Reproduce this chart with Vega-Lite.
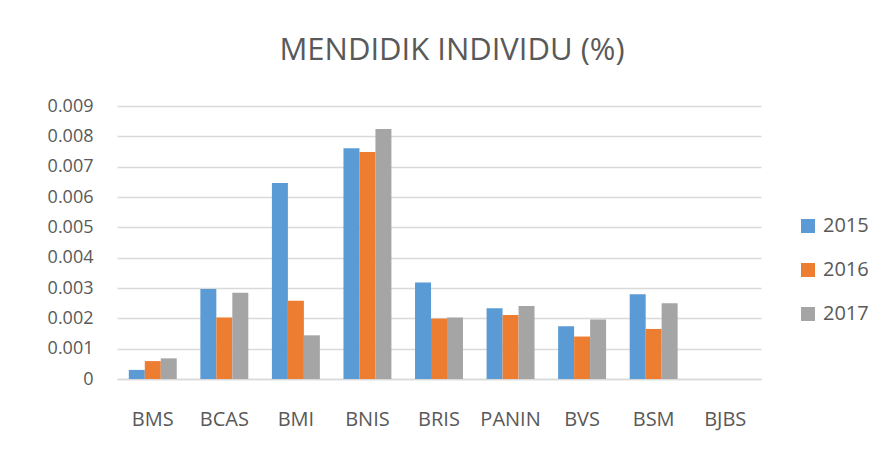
{
  "$schema": "https://vega.github.io/schema/vega-lite/v6.json",
  "width": 644,
  "height": 273,
  "autosize": {"type": "none"},
  "padding": {"left": 117, "top": 106, "right": 127, "bottom": 78},
  "background": "white",
  "title": {
    "text": "MENDIDIK INDIVIDU (%)",
    "font": "Open Sans",
    "fontSize": 31,
    "fontWeight": "normal",
    "color": "#595959",
    "anchor": "middle",
    "dx": 13,
    "offset": 30
  },
  "data": {
    "values": [
      {"bank": "BMS", "year": "2015", "value": 0.0003},
      {"bank": "BMS", "year": "2016", "value": 0.00059},
      {"bank": "BMS", "year": "2017", "value": 0.00068},
      {"bank": "BCAS", "year": "2015", "value": 0.00297},
      {"bank": "BCAS", "year": "2016", "value": 0.00203},
      {"bank": "BCAS", "year": "2017", "value": 0.00284},
      {"bank": "BMI", "year": "2015", "value": 0.00646},
      {"bank": "BMI", "year": "2016", "value": 0.00258},
      {"bank": "BMI", "year": "2017", "value": 0.00144},
      {"bank": "BNIS", "year": "2015", "value": 0.00761},
      {"bank": "BNIS", "year": "2016", "value": 0.00748},
      {"bank": "BNIS", "year": "2017", "value": 0.00824},
      {"bank": "BRIS", "year": "2015", "value": 0.00318},
      {"bank": "BRIS", "year": "2016", "value": 0.00199},
      {"bank": "BRIS", "year": "2017", "value": 0.00203},
      {"bank": "PANIN", "year": "2015", "value": 0.00233},
      {"bank": "PANIN", "year": "2016", "value": 0.00211},
      {"bank": "PANIN", "year": "2017", "value": 0.00241},
      {"bank": "BVS", "year": "2015", "value": 0.00174},
      {"bank": "BVS", "year": "2016", "value": 0.0014},
      {"bank": "BVS", "year": "2017", "value": 0.00196},
      {"bank": "BSM", "year": "2015", "value": 0.00279},
      {"bank": "BSM", "year": "2016", "value": 0.00165},
      {"bank": "BSM", "year": "2017", "value": 0.0025},
      {"bank": "BJBS", "year": "2015", "value": 0},
      {"bank": "BJBS", "year": "2016", "value": 0},
      {"bank": "BJBS", "year": "2017", "value": 0}
    ]
  },
  "mark": {"type": "bar"},
  "encoding": {
    "x": {
      "field": "bank",
      "type": "nominal",
      "sort": null,
      "scale": {"paddingInner": 0.33, "paddingOuter": 0.165},
      "axis": {
        "title": null,
        "labelAngle": 0,
        "labelFont": "Open Sans",
        "labelFontSize": 20,
        "labelColor": "#595959",
        "labelPadding": 30,
        "ticks": false,
        "domainColor": "#D9D9D9",
        "domainWidth": 1.5
      }
    },
    "xOffset": {"field": "year", "type": "nominal", "scale": {"paddingInner": 0, "paddingOuter": 0}},
    "y": {
      "field": "value",
      "type": "quantitative",
      "scale": {"domain": [0, 0.009], "nice": false},
      "axis": {
        "title": null,
        "values": [0, 0.001, 0.002, 0.003, 0.004, 0.005, 0.006, 0.007, 0.008, 0.009],
        "labelExpr": "datum.value == 0 ? '0' : format(datum.value, '.3f')",
        "labelFont": "Open Sans",
        "labelFontSize": 18,
        "labelColor": "#595959",
        "labelPadding": 24,
        "ticks": false,
        "domain": false,
        "gridColor": "#D9D9D9",
        "gridWidth": 1.5
      }
    },
    "color": {
      "field": "year",
      "type": "nominal",
      "scale": {"domain": ["2015", "2016", "2017"], "range": ["#5B9BD5", "#ED7D31", "#A5A5A5"]},
      "legend": {
        "title": null,
        "orient": "none",
        "legendX": 681,
        "legendY": 110,
        "symbolType": "square",
        "symbolSize": 196,
        "symbolStrokeWidth": 0,
        "labelFont": "Open Sans",
        "labelFontSize": 20,
        "labelColor": "#595959",
        "rowPadding": 24,
        "labelOffset": 5
      }
    }
  },
  "config": {"view": {"stroke": null}}
}
